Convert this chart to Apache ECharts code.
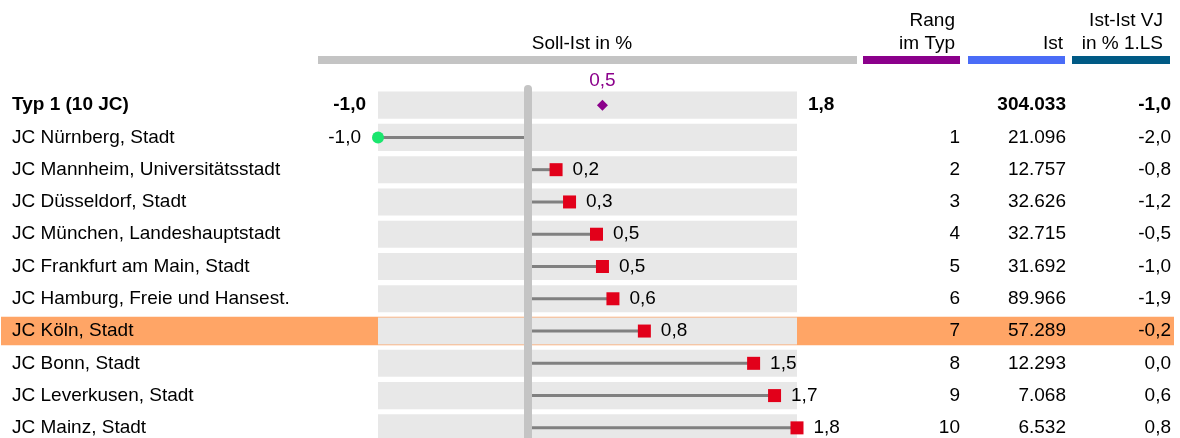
<!DOCTYPE html>
<html lang="de">
<head>
<meta charset="UTF-8">
<title>Soll-Ist Typ 1</title>
<script src="https://cdn.jsdelivr.net/npm/echarts@6/dist/echarts.min.js"></script>
<style>
  html, body { margin: 0; padding: 0; background: #fff; }
  #chart { width: 1180px; height: 438px; }
</style>
</head>
<body>
<div id="chart"></div>
<script>
// Daten
var typName = 'Typ 1 (10 JC)';
var jcNames = [
  'JC Nürnberg, Stadt', 'JC Mannheim, Universitätsstadt', 'JC Düsseldorf, Stadt',
  'JC München, Landeshauptstadt', 'JC Frankfurt am Main, Stadt', 'JC Hamburg, Freie und Hansest.',
  'JC Köln, Stadt', 'JC Bonn, Stadt', 'JC Leverkusen, Stadt', 'JC Mainz, Stadt'
];
var sollIst = [-1.0, 0.19, 0.28, 0.46, 0.50, 0.57, 0.78, 1.51, 1.65, 1.80];
var typAvg = 0.5;
var ranks = [1, 2, 3, 4, 5, 6, 7, 8, 9, 10];
var istTyp = 304033;
var ist = [21096, 12757, 32626, 32715, 31692, 89966, 57289, 12293, 7068, 6532];
var istVJTyp = -1.0;
var istVJ = [-2.0, -0.8, -1.2, -0.5, -1.0, -1.9, -0.2, 0.0, 0.6, 0.8];
var highlightName = 'JC Köln, Stadt';

var FONT = 'Liberation Sans, Arial, sans-serif';
var FS = 19;

function fmt1(v) { return (Math.round(v * 10) / 10).toFixed(1).replace('.', ','); }
function fmtInt(n) { return String(n).replace(/\B(?=(\d{3})+(?!\d))/g, '.'); }

var categories = [typName].concat(jcNames);
var typMin = Math.min.apply(null, sollIst);
var typMax = Math.max.apply(null, sollIst);
var hlIdx = categories.indexOf(highlightName);

var chart = echarts.init(document.getElementById('chart'));

var gridTop = 89, gridH = 355;
var rich = { b: { fontWeight: 'bold', fontSize: FS, fontFamily: FONT, color: '#000' },
             n: { fontSize: FS, fontFamily: FONT, color: '#000' } };

function catAxis(pos, margin, align, formatter, grid) {
  return {
    type: 'category', gridIndex: grid || 0, data: categories, inverse: true, position: pos,
    axisLine: { show: false }, axisTick: { show: false }, splitLine: { show: false },
    axisLabel: {
      show: !!formatter, interval: 0, margin: margin, align: align,
      formatter: formatter, rich: rich
    }
  };
}

var posData = [], negData = [], stemData = [], bandData = [];
categories.forEach(function (c, i) { bandData.push([0, i]); });
sollIst.forEach(function (v, k) {
  stemData.push([v, k + 1]);
  if (v >= 0) posData.push([v, k + 1]); else negData.push([v, k + 1]);
});

var hdr = function (text, x, y, align) {
  return { type: 'text', x: x, y: y, style: { text: text, fill: '#000', font: FS + 'px ' + FONT,
    textAlign: align, textVerticalAlign: 'middle', lineHeight: 23 } };
};
var bar = function (x, w, color) {
  return { type: 'rect', shape: { x: x, y: 56, width: w, height: 8 }, style: { fill: color } };
};

var option = {
  animation: false,
  textStyle: { fontFamily: FONT },
  grid: [
    { left: 378, width: 419, top: gridTop, height: gridH, outerBoundsMode: 'none', containLabel: false },
    { left: 1, right: 6, top: gridTop, height: gridH, outerBoundsMode: 'none', containLabel: false }
  ],
  xAxis: [
    { type: 'value', gridIndex: 0, min: typMin, max: typMax, show: false },
    { type: 'value', gridIndex: 1, min: 0, max: 1, show: false }
  ],
  yAxis: [
    catAxis('left', 366, 'left', function (v, i) { return i === 0 ? '{b|' + v + '}' : '{n|' + v + '}'; }),
    catAxis('left', 12, 'right', function (v, i) { return i === 0 ? '{b|' + fmt1(typMin) + '}' : ''; }),
    catAxis('right', 11, 'left', function (v, i) { return i === 0 ? '{b|' + fmt1(typMax) + '}' : ''; }),
    catAxis('right', 163, 'right', function (v, i) { return i === 0 ? '' : '{n|' + ranks[i - 1] + '}'; }),
    catAxis('right', 269, 'right', function (v, i) { return i === 0 ? '{b|' + fmtInt(istTyp) + '}' : '{n|' + fmtInt(ist[i - 1]) + '}'; }),
    catAxis('right', 374, 'right', function (v, i) { return i === 0 ? '{b|' + fmt1(istVJTyp) + '}' : '{n|' + fmt1(istVJ[i - 1]) + '}'; }),
    catAxis('left', 0, 'left', null, 1)
  ],
  series: [
    {
      // Markierte Zeile
      type: 'custom', xAxisIndex: 1, yAxisIndex: 6, silent: true, z: 0,
      data: [[0, hlIdx]],
      renderItem: function (params, api) {
        var p0 = api.coord([0, api.value(1)]);
        var p1 = api.coord([1, api.value(1)]);
        var h = api.size([0, 1])[1] * 0.88;
        return { type: 'rect', shape: { x: p0[0], y: p0[1] - h / 2, width: p1[0] - p0[0], height: h },
                 style: { fill: '#FFA566' } };
      }
    },
    {
      // graue Hintergrundbänder
      type: 'custom', xAxisIndex: 0, yAxisIndex: 0, silent: true, z: 1,
      data: bandData,
      renderItem: function (params, api) {
        var p0 = api.coord([typMin, api.value(1)]);
        var p1 = api.coord([typMax, api.value(1)]);
        var h = api.size([0, 1])[1] * 0.84;
        return { type: 'rect', shape: { x: p0[0], y: p0[1] - h / 2, width: p1[0] - p0[0], height: h },
                 style: { fill: '#E8E8E8' } };
      }
    },
    {
      // Lollipop-Stiele
      type: 'custom', xAxisIndex: 0, yAxisIndex: 0, silent: true, z: 2,
      data: stemData,
      renderItem: function (params, api) {
        var p0 = api.coord([0, api.value(1)]);
        var p1 = api.coord([api.value(0), api.value(1)]);
        return { type: 'line', shape: { x1: p0[0], y1: p0[1], x2: p1[0], y2: p1[1] },
                 style: { stroke: '#808080', lineWidth: 3 } };
      }
    },
    {
      // Typ-Durchschnitt + Nulllinie
      type: 'scatter', xAxisIndex: 0, yAxisIndex: 0, z: 3, silent: true,
      data: [[typAvg, 0]],
      symbol: 'diamond', symbolSize: [11, 11],
      itemStyle: { color: '#8B008B', opacity: 1 },
      label: { show: true, position: 'top', distance: 9, color: '#8B008B', fontSize: FS,
               formatter: function (p) { return fmt1(p.value[0]); } },
      markLine: {
        silent: true, symbol: 'none', label: { show: false },
        lineStyle: { color: '#C4C4C4', width: 8, type: 'solid', cap: 'round', opacity: 1 },
        data: [{ xAxis: 0 }]
      }
    },
    {
      type: 'scatter', xAxisIndex: 0, yAxisIndex: 0, z: 4, silent: true,
      data: posData, symbol: 'rect', symbolSize: 13,
      itemStyle: { color: '#E2001A', opacity: 1 },
      label: { show: true, position: 'right', distance: 10, color: '#000', fontSize: FS,
               formatter: function (p) { return fmt1(p.value[0]); } }
    },
    {
      type: 'scatter', xAxisIndex: 0, yAxisIndex: 0, z: 4, silent: true,
      data: negData, symbol: 'circle', symbolSize: 12,
      itemStyle: { color: '#1AE66E', opacity: 1 },
      label: { show: true, position: 'left', distance: 11, color: '#000', fontSize: FS,
               formatter: function (p) { return fmt1(p.value[0]); } }
    }
  ],
  graphic: [
    bar(318, 539, '#C4C4C4'),
    bar(863, 97, '#8B008B'),
    bar(968, 97, '#4A6CF7'),
    bar(1072, 98, '#005A85'),
    hdr('Soll-Ist in %', 582, 44, 'center'),
    hdr('Rang\nim Typ', 955, 32.5, 'right'),
    hdr('Ist', 1063, 44, 'right'),
    hdr('Ist-Ist VJ\nin % 1.LS', 1163, 32.5, 'right')
  ]
};

chart.setOption(option);
</script>
</body>
</html>
